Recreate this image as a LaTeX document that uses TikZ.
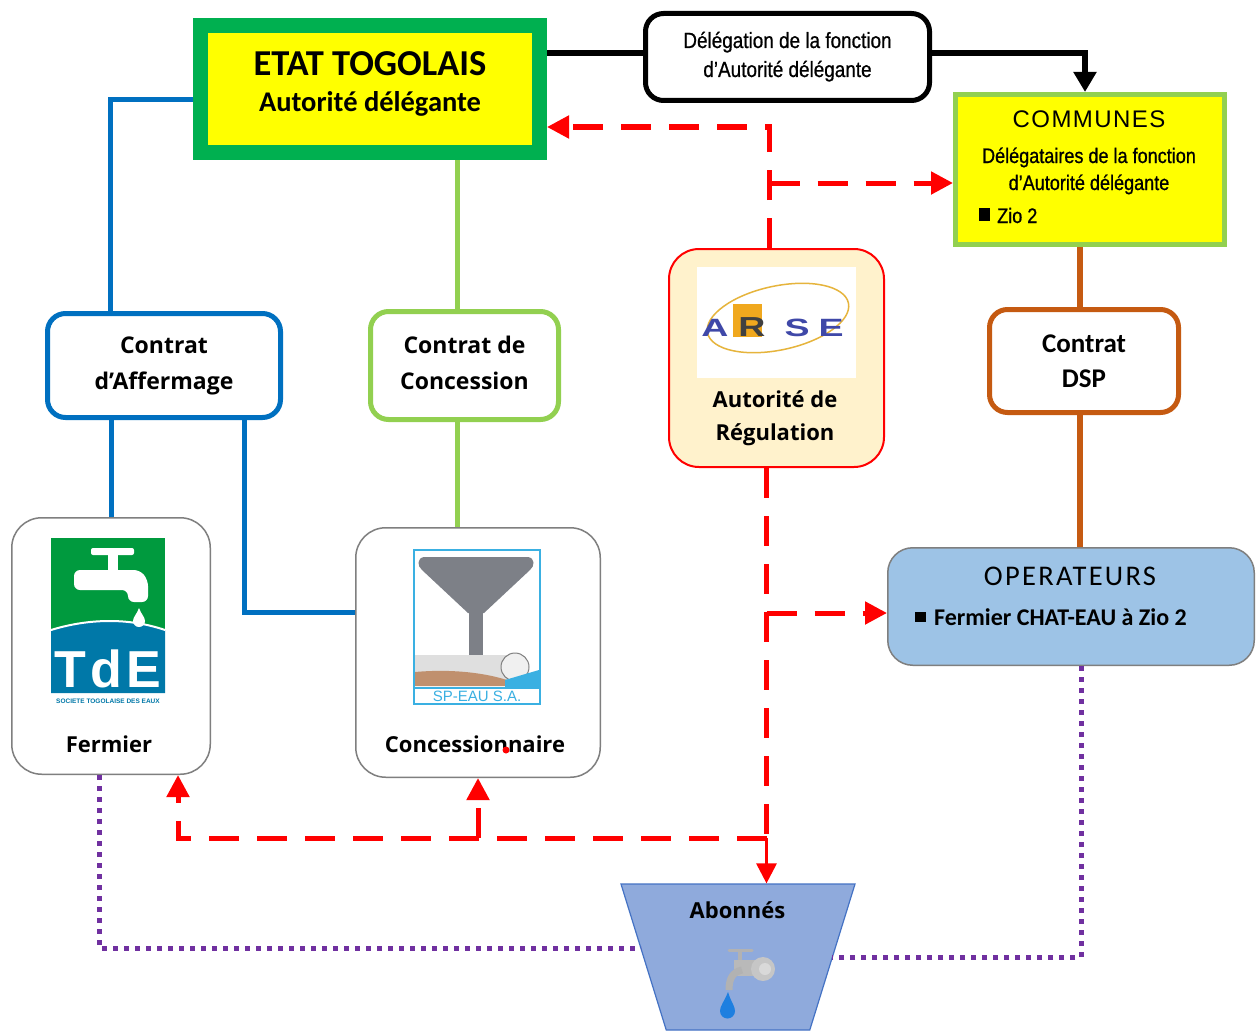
\documentclass[tikz,border=0pt]{standalone}
\usepackage{fontspec}
\setmainfont{Carlito}
\newfontfamily\opensans{Open Sans}
\newfontfamily\arial{Liberation Sans}
\newfontfamily\etroit[FakeStretch=0.86,FakeBold=0.8]{Liberation Sans}
\usetikzlibrary{arrows.meta,shapes.geometric}
\definecolor{vertetat}{HTML}{00B050}
\definecolor{jaune}{HTML}{FFFF00}
\definecolor{bleuaff}{HTML}{0070C0}
\definecolor{vertcon}{HTML}{92D050}
\definecolor{orangedsp}{HTML}{C55A11}
\definecolor{rouge}{HTML}{FF0000}
\definecolor{fondarse}{HTML}{FFF2CC}
\definecolor{fondop}{HTML}{9DC3E6}
\definecolor{fondabo}{HTML}{8FAADC}
\definecolor{bordabo}{HTML}{4472C4}
\definecolor{violetpt}{HTML}{7030A0}
\definecolor{grisbord}{HTML}{7F7F7F}
\definecolor{tdevert}{HTML}{009A3E}
\definecolor{tdebleu}{HTML}{0078A8}
\definecolor{speau}{HTML}{3AB0E2}
\definecolor{tourgris}{HTML}{7D8087}
\definecolor{terre}{HTML}{C0906E}
\definecolor{arsebleu}{HTML}{3F48A8}
\definecolor{arseorange}{HTML}{F0A81E}
\definecolor{arseor}{HTML}{E6B43C}
\definecolor{goutte}{HTML}{1E7FE0}
\begin{document}
\begin{tikzpicture}[x=1pt,y=-1pt,
  cadre/.style={draw, rounded corners=18pt, line width=5pt, fill=white, inner sep=0pt, align=center},
  entite/.style={draw=grisbord, rounded corners=30pt, line width=1.5pt, fill=white, inner sep=0pt},
  texte/.style={anchor=base, inner sep=0pt},
  gras/.style={font=\opensans\bfseries\fontsize{22}{26}\selectfont},
  lettre/.style={texte, arsebleu, font=\arial\bfseries\fontsize{25}{25}\selectfont},
  lienbleu/.style={draw=bleuaff, line width=5pt},
  lienvert/.style={draw=vertcon, line width=5pt},
  lienorange/.style={draw=orangedsp, line width=6pt},
  fleche/.style={draw=rouge, line width=5pt, dash pattern=on 30pt off 18pt, -{Triangle[length=22pt,width=22pt]}},
  pointille/.style={draw=violetpt, line width=5pt, dash pattern=on 5pt off 6pt},
]
\useasboundingbox[fill=white] (0,0) rectangle (1257,1030);

% boites
\node (etat) [draw=vertetat, fill=jaune, line width=15pt, minimum width=339pt, minimum height=127pt] at (370,89) {};
\node (delegation) [cadre, draw=black, line width=5pt, minimum width=284pt, minimum height=87pt] at (787.5,57) {};
\node (communes) [draw=vertcon, fill=jaune, line width=5pt, minimum width=269pt, minimum height=150pt] at (1090,169.5) {};
\node (affermage) [cadre, draw=bleuaff, minimum width=233pt, minimum height=104pt, font=\opensans\bfseries\fontsize{23}{36}\selectfont] at (164,365.5) {Contrat\\d’Affermage};
\node (concession) [cadre, draw=vertcon, minimum width=188pt, minimum height=108pt, font=\opensans\bfseries\fontsize{23}{36}\selectfont] at (464.5,365.5) {Contrat de\\Concession\vphantom{p}};
\node (arse) [draw=rouge, fill=fondarse, rounded corners=30pt, line width=2pt, minimum width=215pt, minimum height=218pt] at (776.5,358) {};
\node (dsp) [cadre, draw=orangedsp, minimum width=189pt, minimum height=103pt, font=\bfseries\fontsize{27}{35}\selectfont] at (1084,361) {Contrat\\DSP};
\node (fermier) [entite, minimum width=198.5pt, minimum height=256.5pt] at (111,646) {};
\node (concess) [entite, minimum width=244.5pt, minimum height=249.5pt] at (478,652.5) {};
\node (operateurs) [draw=grisbord, fill=fondop, rounded corners=25pt, line width=1.5pt, minimum width=366.5pt, minimum height=117.5pt] at (1071,606.5) {};
\node (abonnes) [trapezium, shape border rotate=180, trapezium stretches=true, trapezium left angle=72.5, trapezium right angle=72.5, draw=bordabo, fill=fondabo, line width=1.2pt, minimum width=234pt, minimum height=146pt] at (738,957) {};

% textes
\node (etat-l1) [texte, font=\bfseries\fontsize{36.5}{40}\selectfont] at (370,76) {ETAT TOGOLAIS};
\node (etat-l2) [texte, font=\bfseries\fontsize{28.5}{30}\selectfont] at (370,112) {Autorité délégante};
\node (deleg-l1) [texte, font=\etroit\fontsize{22}{26}\selectfont] at (787.5,48) {Délégation de la fonction};
\node (deleg-l2) [texte, font=\etroit\fontsize{22}{26}\selectfont] at (787.5,77) {d’Autorité délégante};
\node (com-l1) [texte, font=\arial\fontsize{24}{28}\selectfont\addfontfeature{LetterSpace=6}] at (1089,128) {COMMUNES};
\node (com-l2) [texte, font=\etroit\fontsize{21}{26}\selectfont] at (1089,163) {Délégataires de la fonction};
\node (com-l3) [texte, font=\etroit\fontsize{21}{26}\selectfont] at (1089,190) {d’Autorité délégante};
\node (com-l4) [texte, anchor=base west, font=\etroit\fontsize{21}{26}\selectfont] at (997,223) {Zio 2};
\fill (979,208) rectangle (990,221);
\node (arse-l1) [texte, gras] at (775,407) {Autorité de};
\node (arse-l2) [texte, gras] at (775,440) {Régulation};
\node (fermier-l) [texte, gras] at (109,752) {Fermier};
\node (concess-l) [texte, gras] at (475,752) {Concessionnaire};
\node (op-l1) [texte, font=\fontsize{28.5}{30}\selectfont\addfontfeature{LetterSpace=8}] at (1070,585) {OPERATEURS};
\node (op-l2) [texte, anchor=base west, font=\bfseries\fontsize{24}{26}\selectfont] at (934,625) {Fermier CHAT-EAU à Zio 2};
\fill (915,612) rectangle (926,622);
\node (abonnes-l) [texte, gras] at (737.5,918) {Abonnés};
\fill[rouge] (506,750) circle (3.5);

% liens
\draw[black, line width=6pt] (etat.east |- 0,53) -- (delegation.west |- 0,53);
\draw[black, line width=6pt, -{Triangle[length=20pt,width=22pt]}] (delegation.east |- 0,53) -| ([xshift=-5]communes.north);
\draw[lienbleu] (etat.west |- 0,100) -| ([xshift=-54]affermage.north);
\draw[lienbleu] (fermier.north |- affermage.south) -- (fermier.north);
\draw[lienbleu] ([xshift=80]affermage.south) |- (concess.west |- 0,612);
\draw[lienvert] ([xshift=-7]concession.north |- etat.south) -- ([xshift=-7]concession.north);
\draw[lienvert] ([xshift=-7]concession.south) -- ([xshift=-7]concession.south |- concess.north);
\draw[lienorange] ([xshift=-4]dsp.north |- communes.south) -- ([xshift=-4]dsp.north);
\draw[lienorange] ([xshift=-4]dsp.south) -- ([xshift=-4]dsp.south |- operateurs.north);

% regulation
\coordinate (rj) at ([xshift=-10]arse.south |- 0,838);
\draw[fleche] ([xshift=-7]arse.north) |- (etat.east |- 0,127);
\draw[fleche] ([xshift=-7]arse.north |- 0,183) -- (communes.west |- 0,183);
\draw[fleche, -] ([xshift=-10]arse.south) -- (rj);
\draw[fleche] ([xshift=-10]arse.south |- 0,613) -- (operateurs.west |- 0,613);
\draw[fleche] (rj) -| ([xshift=67]fermier.south);
\draw[fleche] (concess.south |- rj) -- (concess.south);
\draw[rouge, line width=3pt, -{Triangle[length=20pt,width=20pt]}] (rj) -- (rj |- abonnes.north);

% abonnes
\coordinate (abo-g) at (641,948);
\coordinate (abo-d) at (832,957);
\draw[pointille] ([xshift=-12]fermier.south) |- (abo-g);
\draw[pointille] ([xshift=10]operateurs.south) |- (abo-d);

% logo TdE
\fill[tdevert] (51,538) rectangle (165,630);
\fill[tdebleu] (51,630) .. controls (90,618) and (130,618) .. (165,630) -- (165,693) -- (51,693) -- cycle;
\draw[white, line width=2pt] (51,630) .. controls (90,618) and (130,618) .. (165,630);
\fill[white, rounded corners=2pt] (91,548) rectangle (134,555);
\fill[white] (108,552) rectangle (118,572);
\fill[white, rounded corners=6pt] (74,570) -- (140,570) -- (148,580) -- (148,602) -- (128,602) -- (128,590) -- (74,590) -- cycle;
\fill[white] (139,608) .. controls (137,614) and (133,617) .. (133,621) arc (180:0:6) .. controls (145,617) and (141,614) .. (139,608) -- cycle;
\node (tde) [texte, white, font=\arial\bfseries\fontsize{52}{56}\selectfont] at (108,687) {T\kern4pt d\kern4pt E};
\node (tde-s) [texte, tdebleu, font=\arial\bfseries\fontsize{6.5}{7}\selectfont] at (108,703) {SOCIETE TOGOLAISE DES EAUX};

% logo SP-EAU
\draw[speau, line width=2pt, fill=white] (414,550) rectangle (540,704);
\fill[tourgris] (424,557) -- (528,557) .. controls (535,558) and (535,566) .. (530,570) -- (484,613) -- (468,613) -- (422,570) .. controls (417,566) and (417,558) .. (424,557) -- cycle;
\fill[tourgris] (469,610) rectangle (483,657);
\fill[gray!25] (415,655) rectangle (515,680);
\fill[terre] (415,672) .. controls (460,668) and (500,675) .. (522,686) -- (415,686) -- cycle;
\draw[gray, fill=gray!12, line width=1pt] (515,667) circle (14);
\fill[speau] (505,680) -- (539,670) -- (539,687) -- (505,687) -- cycle;
\draw[speau, line width=1.5pt] (414,688) -- (540,688);
\node (speau-l) [texte, speau, font=\arial\fontsize{15}{16}\selectfont] at (477,701) {SP-EAU S.A.};

% logo ARSE
\fill[white] (697,267) rectangle (856,378);
\begin{scope}
\clip (697,267) rectangle (856,378);
\draw[arseor, line width=1.5pt, rotate around={12:(778,318)}] (778,318) ellipse [x radius=72, y radius=32];
\end{scope}
\fill[arseorange] (733,304) rectangle (762,337);
\node (arse-a) [lettre] at (715,336) {\scalebox{1.5}[1]{A}};
\node (arse-r) [lettre, black!75] at (752,336) {\scalebox{1.5}[1.1]{R}};
\node (arse-s) [lettre] at (797,336) {\scalebox{1.5}[1]{S}};
\node (arse-e) [lettre] at (831,336) {\scalebox{1.5}[1]{E}};

% robinet
\draw[gray!60, line width=3pt, line cap=round] (729,950) -- (752,950);
\draw[gray!60, line width=4pt] (740,950) -- (740,962);
\fill[gray!55] (734,960) rectangle (760,976);
\fill[gray!45] (763,969) circle (12);
\fill[gray!30] (765,969) circle (6);
\draw[gray!60, line width=7pt] (742,970) .. controls (733,972) and (729,978) .. (729,990);
\fill[goutte] (728,992) .. controls (724,1002) and (720,1006) .. (720,1011) arc (180:0:7.5) .. controls (735,1006) and (731,1002) .. (728,992) -- cycle;

\end{tikzpicture}
\end{document}
